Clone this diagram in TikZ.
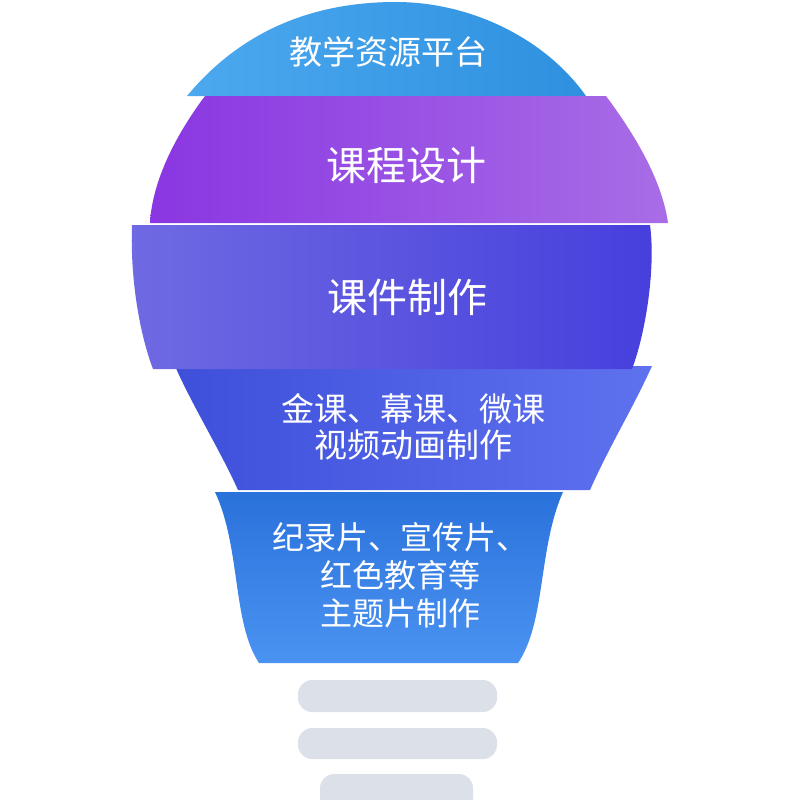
\documentclass[tikz,border=0pt]{standalone}
\usepackage{fontspec}
\newfontfamily\cjk{Noto Sans CJK SC}
\definecolor{capL}{HTML}{4CA9EF}
\definecolor{capR}{HTML}{2E90DF}
\definecolor{purL}{HTML}{8A36E2}
\definecolor{purR}{HTML}{A86DE6}
\definecolor{indL}{HTML}{6F6AE2}
\definecolor{indR}{HTML}{463FDD}
\definecolor{bluL}{HTML}{3E4FDA}
\definecolor{bluR}{HTML}{5E72EF}
\definecolor{neckT}{HTML}{2A72DB}
\definecolor{neckB}{HTML}{4B93F1}
\definecolor{barC}{HTML}{DCE0E8}
\tikzset{
  lbl/.style={text=white, font=\cjk, align=center, inner sep=0pt},
  bigl/.style={lbl, font=\cjk\fontsize{40}{46}\selectfont},
  midl/.style={lbl, font=\cjk\fontsize{33}{36}\selectfont},
  neckl/.style={lbl, font=\cjk\fontsize{32}{38}\selectfont},
  basebar/.style={fill=barC, rounded corners=14pt},
}
\begin{document}
\begin{tikzpicture}[x=1pt,y=-1pt]
\useasboundingbox (0,0) rectangle (800,800);
\clip (0,0) rectangle (800,800);
% top cap
\shade[left color=capL, right color=capR]
  (187,96) .. controls (250,20) and (330,2) .. (396,2)
  .. controls (470,2) and (545,38) .. (586,96) -- cycle;
% purple band
\shade[left color=purL, right color=purR]
  (205,96) -- (606,96) .. controls (635,135) and (662,180) .. (668,223)
  -- (150,223) .. controls (152,185) and (172,140) .. (205,96) -- cycle;
% band 4
\shade[left color=bluL, right color=bluR]
  (175,366) -- (652,366) .. controls (632,410) and (610,445) .. (590,490)
  -- (238,490) .. controls (220,450) and (192,405) .. (175,366) -- cycle;
% band 3
\shade[left color=indL, right color=indR]
  (132,225) -- (650,225) .. controls (656,270) and (645,335) .. (632,369)
  -- (153,369) .. controls (140,335) and (130,280) .. (132,225) -- cycle;
% neck
\shade[top color=neckT, bottom color=neckB]
  (215,492) -- (563,492) .. controls (538,548) and (546,622) .. (518,663)
  -- (259,663) .. controls (232,622) and (241,548) .. (215,492) -- cycle;
% bars
\fill[basebar] (298,680) rectangle (497,712);
\fill[basebar] (298,728) rectangle (497,759);
\fill[basebar] (320,774) rectangle (473,820);
% labels
\node[midl] (t1) at (388,52) {教学资源平台};
\node[bigl] (t2) at (406,165) {课程设计};
\node[bigl] (t3) at (407,297) {课件制作};
\node[midl] (t4) at (413,427) {金课、幕课、微课\\视频动画制作};
\node[neckl] (t5) at (400,575) {纪录片、宣传片、\\红色教育等\\主题片制作};
\end{tikzpicture}
\end{document}
